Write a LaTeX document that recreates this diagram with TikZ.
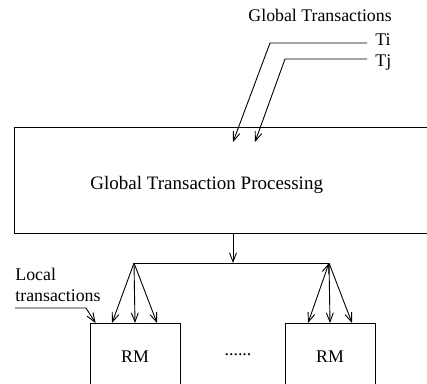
\documentclass[tikz,border=0pt]{standalone}
\usepackage{fontspec}
\setmainfont{Liberation Serif}
\usetikzlibrary{arrows.meta}
\begin{document}
\begin{tikzpicture}[x=1pt,y=-1pt,>={Straight Barb[length=9pt,width=7pt]},line width=0.9pt,
		txt/.style={font=\fontsize{17.8}{21}\selectfont,inner sep=0pt},
		box/.style={draw,inner sep=0pt,font=\fontsize{17.8}{21}\selectfont}]
			\useasboundingbox (0,0) rectangle (427,383);
			\clip (0,0) rectangle (427,383);
			% global processing box, runs off the right edge
			\node[box,minimum width=420pt,minimum height=106pt,anchor=north west] (gtp) at (14,127) {};
			\node[txt,font=\fontsize{19}{23}\selectfont,anchor=base west] (gtplabel) at (90,189) {Global Transaction Processing};
			% incoming global transactions
			\node[txt,anchor=base west] (glob) at (248,21) {Global Transactions};
			\node[txt,anchor=base west] (ti) at (375,45) {Ti};
			\node[txt,anchor=base west] (tj) at (375,66) {Tj};
			\coordinate (tistart) at (367,43);
			\coordinate (tibend) at (270,43);
			\coordinate (tiend) at (233,142);
			\coordinate (tjstart) at (367,59);
			\coordinate (tjbend) at (285,59);
			\coordinate (tjend) at (255,142);
			\draw[->] (tistart) -- (tibend) -- (tiend);
			\draw[->] (tjstart) -- (tjbend) -- (tjend);
			% resource managers
			\node[box,minimum width=90pt,minimum height=66pt,anchor=north] (rm1) at (135,323) {RM};
			\node[box,minimum width=90pt,minimum height=66pt,anchor=north] (rm2) at (330,323) {RM};
			\node[txt] (dots) at (238,355) {......};
			% split to the managers
			\coordinate (split) at (233,263);
			\coordinate (hubl) at (134,263);
			\coordinate (hubr) at (329,263);
			\draw[->] (gtp.south -| split) -- (split);
			\draw (hubl) -- (hubr);
			\foreach \dx in {-23,0,22}
				\draw[->] (hubl) -- ([xshift=\dx pt]rm1.north);
			\draw[<->] (hubr) -- ([xshift=-22pt]rm2.north);
			\foreach \dx in {0,22}
				\draw[->] (hubr) -- ([xshift=\dx pt]rm2.north);
			% local transactions
			\node[txt,align=left,anchor=north west] (local) at (15,268) {Local\\transactions};
			\coordinate (ltbend) at (86,308);
			\draw[->] (ltbend -| local.west) -- (ltbend) -- ([xshift=6pt]rm1.north west);
	\end{tikzpicture}
\end{document}
